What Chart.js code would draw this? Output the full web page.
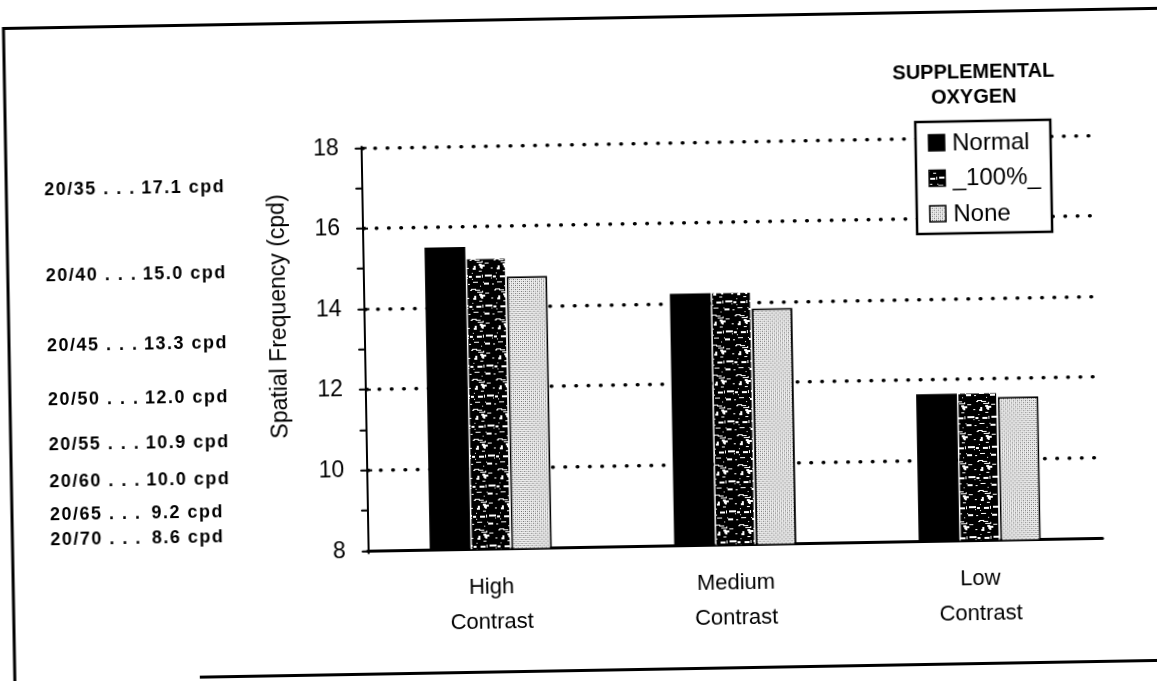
<!DOCTYPE html>
<html>
<head>
<meta charset="utf-8">
<script src="https://cdn.jsdelivr.net/npm/chart.js@4.4.1/dist/chart.umd.min.js"></script>
<style>
  html, body { margin: 0; padding: 0; background: #fff; overflow: hidden; width: 1157px; height: 681px; }
  #wrap { position: absolute; left: -20px; top: -20px; width: 1197px; height: 721px;
          transform: rotate(-1deg); transform-origin: 598.5px 360.5px; }
  canvas { display: block; }
</style>
</head>
<body>
<div id="wrap"><canvas id="c" width="1197" height="721"></canvas></div>
<script>
// Contrast conditions (x categories) and oxygen conditions (series)
const categories = [['High', 'Contrast'], ['Medium', 'Contrast'], ['Low', 'Contrast']];
const seriesNames = ['Normal', '_100%_', 'None'];

// Mean spatial frequency threshold, cpd
const normalO2 = [15.5, 14.25, 11.65];
const fullO2   = [15.2, 14.25, 11.65];
const noO2     = [14.75, 13.85, 11.55];

// Snellen acuity equivalents printed beside the axis
const acuity    = ['20/35', '20/40', '20/45', '20/50', '20/55', '20/60', '20/65', '20/70'];
const acuityCpd = [17.1, 15.0, 13.3, 12.0, 10.9, 10.0, 9.2, 8.6];

const legendTitle = ['SUPPLEMENTAL', 'OXYGEN'];
const yTitle = 'Spatial Frequency (cpd)';
const yMin = 8, yMax = 18;

const FONT = '"Liberation Sans", Arial, sans-serif';
Chart.defaults.font.family = FONT;
Chart.defaults.color = '#000';

// Dark mottled fill (deterministic hash so the texture is stable)
function speckleFill() {
  const c = document.createElement('canvas');
  c.width = 24; c.height = 30;
  const g = c.getContext('2d');
  g.fillStyle = '#000';
  g.fillRect(0, 0, 24, 30);
  g.fillStyle = '#fff';
  let s = 11;
  const step = () => { s = (s * 16807) % 2147483647; return s / 2147483647; };
  for (let i = 0; i < 34; i++) {
    const x = Math.floor(step() * 24), y = Math.floor(step() * 30);
    const w = 1 + Math.floor(step() * 5), h = step() < 0.3 ? 2 : 1;
    g.fillRect(x, y, w, h);
  }
  return g.createPattern(c, 'repeat');
}

// Light halftone fill
function stippleFill() {
  const c = document.createElement('canvas');
  c.width = 4; c.height = 4;
  const g = c.getContext('2d');
  g.fillStyle = '#eeeeee';
  g.fillRect(0, 0, 4, 4);
  g.fillStyle = '#666';
  g.fillRect(0, 0, 1, 1); g.fillRect(2, 2, 1, 1);
  g.fillStyle = '#aaa';
  g.fillRect(2, 0, 1, 1); g.fillRect(0, 2, 1, 1);
  return g.createPattern(c, 'repeat');
}

const decor = {
  id: 'decor',
  beforeDraw(chart) {
    const ctx = chart.ctx;
    ctx.save();
    ctx.fillStyle = '#fff';
    ctx.fillRect(0, 0, chart.width, chart.height);
    // page frame
    ctx.strokeStyle = '#000';
    ctx.lineWidth = 3;
    ctx.beginPath();
    ctx.moveTo(29, 721); ctx.lineTo(29, 38.5); ctx.lineTo(1197, 38.5);
    ctx.moveTo(214, 690.5); ctx.lineTo(1197, 690.5);
    ctx.stroke();
    ctx.restore();
    // round caps turn the dashed grid into dots
    ctx.lineCap = 'round';
  },
  afterDraw(chart) {
    const ctx = chart.ctx;
    const ys = chart.scales.y;
    const ca = chart.chartArea;
    ctx.lineCap = 'butt';
    ctx.save();
    ctx.fillStyle = '#000';
    ctx.strokeStyle = '#000';

    // inner half of the major tick marks
    ctx.lineWidth = 2;
    ys.ticks.forEach(t => {
      if (t.value % 2 === 0 && t.value > yMin) {
        const py = ys.getPixelForValue(t.value);
        ctx.beginPath(); ctx.moveTo(ca.left, py); ctx.lineTo(ca.left + 5, py); ctx.stroke();
      }
    });

    // y axis title
    ctx.save();
    ctx.translate(ca.left - 79, ca.top + 167);
    ctx.rotate(-Math.PI / 2);
    ctx.font = '23px ' + FONT;
    ctx.textAlign = 'center';
    ctx.textBaseline = 'alphabetic';
    ctx.fillText(yTitle, 0, 0);
    ctx.restore();

    // acuity equivalents
    ctx.font = 'bold 18px ' + FONT;
    ctx.letterSpacing = '1.5px';
    ctx.textBaseline = 'middle';
    acuity.forEach((a, i) => {
      const v = acuityCpd[i];
      const py = ys.getPixelForValue(v) + (17.1 - v) * 0.9;
      ctx.textAlign = 'left';
      ctx.fillText(a + ' . . .', 67, py);
      ctx.textAlign = 'right';
      ctx.fillText(v.toFixed(1) + ' cpd', v < 10 ? 241 : 248, py);
    });
    ctx.letterSpacing = '0px';

    // legend
    const lx = 939, ly = 148, lw = 135, lh = 112;
    ctx.fillStyle = '#fff';
    ctx.fillRect(lx, ly, lw, lh);
    ctx.lineWidth = 2.5;
    ctx.strokeRect(lx, ly, lw, lh);
    ctx.fillStyle = '#000';
    ctx.font = 'bold 20px ' + FONT;
    ctx.textAlign = 'center';
    ctx.textBaseline = 'middle';
    legendTitle.forEach((t, i) => ctx.fillText(t, 998, 99 + i * 25));

    ctx.textAlign = 'left';
    ctx.font = '24px ' + FONT;
    chart.data.datasets.forEach((ds, i) => {
      const cy = ly + 21 + i * 35.5;
      ctx.fillStyle = ds.backgroundColor;
      ctx.fillRect(952, cy - 8, 16, 16);
      ctx.lineWidth = 1.5;
      ctx.strokeRect(952, cy - 8, 16, 16);
      ctx.fillStyle = '#000';
      ctx.fillText(ds.label, 975.5, cy + 1);
    });
    ctx.restore();
  }
};

new Chart(document.getElementById('c'), {
  type: 'bar',
  data: {
    labels: categories,
    datasets: [
      { label: seriesNames[0], data: normalO2, backgroundColor: '#000', borderWidth: 0 },
      { label: seriesNames[1], data: fullO2, backgroundColor: speckleFill(),
        borderColor: '#fff', borderWidth: { left: 1.5, right: 1.5, top: 0, bottom: 0 } },
      { label: seriesNames[2], data: noO2, backgroundColor: stippleFill(),
        borderColor: '#000', borderWidth: 2 }
    ]
  },
  options: {
    responsive: false,
    animation: false,
    devicePixelRatio: 1,
    layout: { padding: { left: 20, right: 78.5, top: 164.3, bottom: 20 } },
    plugins: { legend: { display: false }, tooltip: { enabled: false } },
    datasets: { bar: { categoryPercentage: 0.5, barPercentage: 1, borderSkipped: false } },
    scales: {
      x: {
        grid: { display: false, drawTicks: false, tickLength: 0 },
        border: { display: true, color: '#000', width: 3 },
        ticks: { font: { size: 22, lineHeight: 1.6 }, color: '#000', padding: 21,
                 maxRotation: 0, autoSkip: false },
        afterFit(s) { s.height = 133.7; }
      },
      y: {
        min: yMin, max: yMax,
        border: { display: true, color: '#000', width: 2, dash: [0.5, 11.8] },
        grid: {
          color: c => (c.tick && c.tick.value % 2 === 0 && c.tick.value > yMin) ? '#000' : 'rgba(0,0,0,0)',
          lineWidth: 3.6,
          drawTicks: true, tickLength: 6, tickColor: '#000', tickWidth: 2
        },
        ticks: { stepSize: 1, padding: 17, font: { size: 23 }, color: '#000',
                 callback: v => (v % 2 === 0 ? String(v) : '') },
        afterFit(s) { s.width = 365; }
      }
    }
  },
  plugins: [decor]
});
</script>
</body>
</html>
